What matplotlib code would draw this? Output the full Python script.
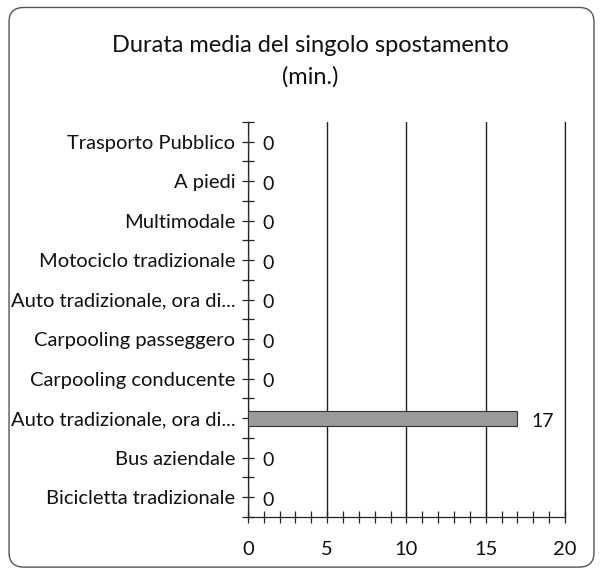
import numpy as np
import matplotlib
matplotlib.use("Agg")
import matplotlib.pyplot as plt
from matplotlib.patches import FancyBboxPatch
from matplotlib.ticker import MultipleLocator

categories = ["Bicicletta tradizionale", "Bus aziendale", "Auto tradizionale, ora di...",
              "Carpooling conducente", "Carpooling passeggero", "Auto tradizionale, ora di...",
              "Motociclo tradizionale", "Multimodale", "A piedi", "Trasporto Pubblico"]
values = [0, 0, 17, 0, 0, 0, 0, 0, 0, 0]
x_ticks = [0, 5, 10, 15, 20]

plt.rcParams['font.family'] = ['Lato', 'DejaVu Sans']

fig = plt.figure(figsize=(6.03, 5.74), dpi=100)
ax = fig.add_axes([0.411, 0.0993, 0.526, 0.6882])

pos = np.arange(len(categories))
ax.barh(pos, values, height=0.38, color="#9a9a9a", edgecolor="#333333", linewidth=0.8, zorder=3)

for p, v in zip(pos, values):
    ax.text(v + 0.9, p - 0.08, str(v), va="center", ha="left", fontsize=14, color="#111111")

ax.set_xlim(0, 20)
ax.set_ylim(-0.5, len(categories) - 0.5)
ax.set_yticks(pos)
ax.set_yticklabels(categories, fontsize=14.5, color="#111111")
ax.yaxis.set_minor_locator(MultipleLocator(1, offset=0.5))
ax.set_xticks(x_ticks)
ax.set_xticklabels([str(t) for t in x_ticks], fontsize=14.5, color="#111111")
ax.xaxis.set_minor_locator(MultipleLocator(1))

ax.tick_params(axis="both", which="both", direction="inout", length=8, width=0.9, color="#222222")
ax.tick_params(axis="y", which="major", pad=5)
ax.tick_params(axis="x", which="major", pad=13)

ax.grid(axis="x", color="#222222", linewidth=1.0, zorder=0)
ax.spines["top"].set_visible(False)
for s in ["left", "bottom", "right"]:
    ax.spines[s].set_color("#222222")
    ax.spines[s].set_linewidth(0.9)

fig.text(0.514, 0.893, "Durata media del singolo spostamento\n(min.)", ha="center", va="center",
         fontsize=17, linespacing=1.6, color="#111111")

border = FancyBboxPatch((0.015, 0.012), 0.97, 0.975, boxstyle="round,pad=0,rounding_size=0.025",
                        transform=fig.transFigure, fill=False, edgecolor="#555555", linewidth=1.0)
fig.patches.append(border)

fig.savefig("out.png", dpi=100)
